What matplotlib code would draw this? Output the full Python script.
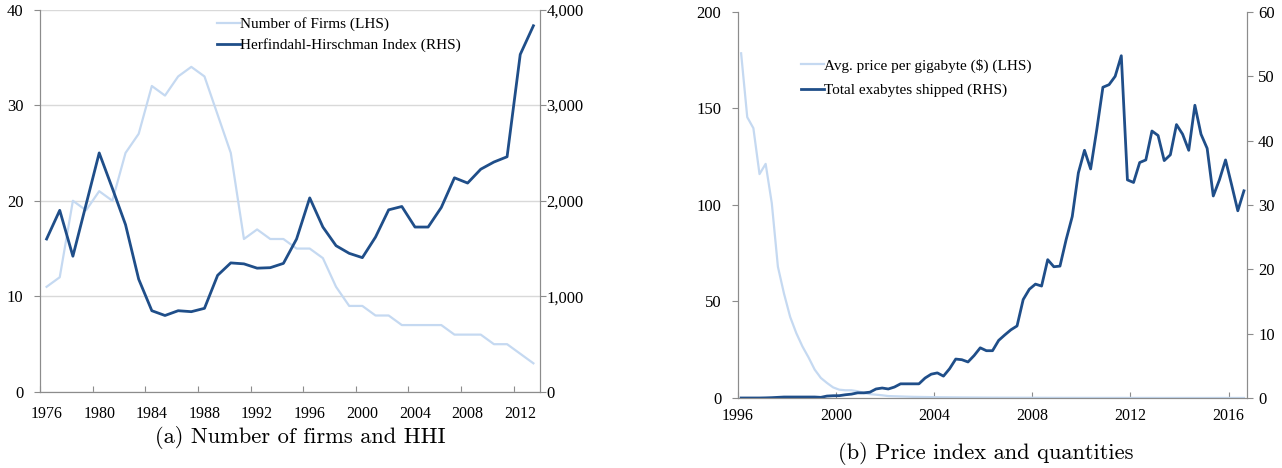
import numpy as np
import matplotlib
matplotlib.use("Agg")
import matplotlib.pyplot as plt
from matplotlib.ticker import FuncFormatter

plt.rcParams['font.family'] = ['Liberation Serif', 'DejaVu Serif']

# panel (a): annual data
years = list(range(1976, 2014))
num_firms = [11, 12, 20, 19, 21, 20, 25, 27, 32, 31, 33, 34, 33, 29, 25, 16, 17, 16, 16, 15,
             15, 14, 11, 9, 9, 8, 8, 7, 7, 7, 7, 6, 6, 6, 5, 5, 4, 3]
hhi = [1600, 1900, 1420, 1960, 2500, 2130, 1750, 1180, 850, 800, 850, 840, 875, 1220, 1350, 1340,
       1295, 1300, 1345, 1600, 2030, 1725, 1530, 1450, 1405, 1620, 1905, 1940, 1725, 1725, 1930,
       2240, 2185, 2330, 2405, 2460, 3530, 3830]

# panel (b): quarterly data 1996Q1 - 2016Q3
price_gb = [178.6, 145.5, 139.8, 116.0, 121.3, 101.0, 68.0, 54.0, 42.0, 33.6, 26.7, 21.0, 14.7,
            10.4, 7.8, 5.5, 4.3, 4.0, 4.0, 3.5, 2.6, 2.0, 1.7, 1.4, 1.0, 0.9, 0.8, 0.7, 0.6, 0.55,
            0.5, 0.45, 0.4, 0.38, 0.35, 0.33, 0.3, 0.28, 0.26, 0.24, 0.22, 0.2, 0.19, 0.18, 0.17,
            0.16, 0.15, 0.14, 0.13, 0.12, 0.11, 0.1, 0.1, 0.09, 0.09, 0.08, 0.08, 0.07, 0.07, 0.07,
            0.06, 0.06, 0.06, 0.05, 0.05, 0.05, 0.05, 0.05, 0.04, 0.04, 0.04, 0.04, 0.04, 0.04,
            0.03, 0.03, 0.03, 0.03, 0.03, 0.03, 0.03, 0.03, 0.03]
exabytes = [0.0, 0.0, 0.0, 0.0, 0.02, 0.05, 0.1, 0.15, 0.15, 0.15, 0.15, 0.15, 0.15, 0.1, 0.3,
            0.35, 0.36, 0.5, 0.6, 0.8, 0.8, 0.9, 1.4, 1.55, 1.4, 1.7, 2.2, 2.2, 2.2, 2.2, 3.1, 3.7,
            3.9, 3.4, 4.55, 6.05, 5.95, 5.6, 6.6, 7.8, 7.35, 7.35, 8.95, 9.8, 10.6, 11.2, 15.3, 16.9,
            17.7, 17.4, 21.5, 20.4, 20.5, 24.6, 28.2, 35.0, 38.5, 35.6, 41.7, 48.3, 48.7, 50.0, 53.2,
            33.9, 33.5, 36.6, 37.0, 41.5, 40.8, 36.9, 37.8, 42.5, 41.0, 38.5, 45.5, 41.0, 38.8, 31.4,
            33.9, 37.0, 33.1, 29.1, 32.2]

dark = '#1f4e89'
light = '#c5d9f1'
spine_c = '#8c8c8c'
grid_c = '#d9d9d9'

fig = plt.figure(figsize=(12.82, 4.68), dpi=100)

comma = FuncFormatter(lambda v, p: f'{int(v):,}')

# ---------- panel (a)
ax1 = fig.add_axes([0.0312, 0.1624, 0.3900, 0.8173])
ax1b = ax1.twinx()
l1, = ax1.plot(years, num_firms, color=light, lw=1.6)
l2, = ax1b.plot(years, hhi, color=dark, lw=2.0)
ax1.set_xlim(1975.5, 2013.5)
ax1.set_ylim(0, 40)
ax1b.set_ylim(0, 4000)
ax1.set_yticks([0, 10, 20, 30, 40])
ax1b.set_yticks([0, 1000, 2000, 3000, 4000])
ax1b.yaxis.set_major_formatter(comma)
ax1.set_xticks(np.arange(1975.5, 2014, 4))
ax1.set_xticklabels([])
ax1.set_xticks(years[::4], minor=True)
ax1.set_xticklabels([str(y) for y in years[::4]], minor=True)
ax1.tick_params(axis='x', which='major', direction='in', length=4, color=spine_c)
ax1.tick_params(axis='x', which='minor', length=0, pad=10, labelsize=11.5)
ax1.tick_params(axis='y', direction='out', length=4, color=spine_c, labelsize=12, pad=8)
ax1b.tick_params(axis='y', direction='out', length=4, color=spine_c, labelsize=12, pad=0.5)
ax1.grid(axis='y', color=grid_c, lw=1)
ax1.set_axisbelow(True)
for a in (ax1, ax1b):
    a.spines['top'].set_visible(False)
    for s in ('left', 'right', 'bottom'):
        a.spines[s].set_color(spine_c)
ax1b.legend([l1, l2], ['Number of Firms (LHS)', 'Herfindahl-Hirschman Index (RHS)'],
            loc='upper left', bbox_to_anchor=(0.327, 1.015), frameon=False, fontsize=11,
            handlelength=1.5, handletextpad=0.0, labelspacing=0.45)
fig.text(0.234, 0.066, '(a) Number of firms and HHI', family='cmr10', fontsize=16.2,
         ha='center', va='center')

# ---------- panel (b)
qx = [1996 + (i + 0.5) / 4 for i in range(len(exabytes))]
ax2 = fig.add_axes([0.5757, 0.1496, 0.3970, 0.8248])
ax2b = ax2.twinx()
l3, = ax2.plot(qx, price_gb, color=light, lw=1.6)
l4, = ax2b.plot(qx, exabytes, color=dark, lw=2.0)
ax2.set_xlim(1996, 2016.75)
ax2.set_ylim(0, 200)
ax2b.set_ylim(0, 60)
ax2.set_yticks([0, 50, 100, 150, 200])
ax2b.set_yticks([0, 10, 20, 30, 40, 50, 60])
ax2.set_xticks([1996, 2000, 2004, 2008, 2012, 2016])
ax2.tick_params(axis='x', direction='in', length=4, color=spine_c, labelsize=11.5, pad=7)
ax2.tick_params(axis='y', direction='out', length=4, color=spine_c, labelsize=12, pad=8)
ax2b.tick_params(axis='y', direction='out', length=4, color=spine_c, labelsize=12, pad=4)
for a in (ax2, ax2b):
    a.spines['top'].set_visible(False)
    for s in ('left', 'right', 'bottom'):
        a.spines[s].set_color(spine_c)
ax2b.legend([l3, l4], ['Avg. price per gigabyte ($) (LHS)', 'Total exabytes shipped (RHS)'],
            loc='upper left', bbox_to_anchor=(0.096, 0.915), frameon=False, fontsize=11,
            handlelength=1.5, handletextpad=0.0, labelspacing=0.7)
fig.text(0.769, 0.032, '(b) Price index and quantities', family='cmr10', fontsize=16.2,
         ha='center', va='center')

fig.savefig('out.png', dpi=100)
